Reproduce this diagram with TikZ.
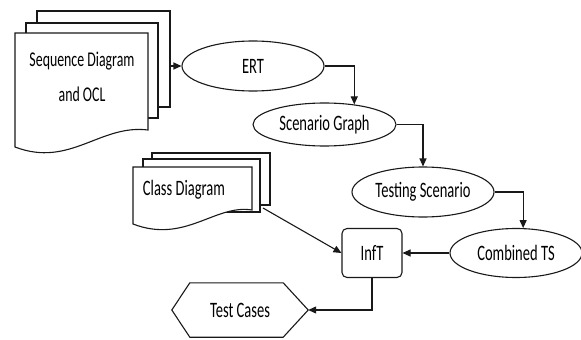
\documentclass[tikz,border=0pt]{standalone}
\usepackage{fontspec}
\setmainfont{Carlito}[FakeStretch=0.66]
\usetikzlibrary{arrows.meta,shapes.geometric,calc}
\tikzset{
  line/.style={draw=black!90, line width=1.1pt},
  oval/.style={ellipse, line, fill=white, inner sep=0pt, font=\fontsize{22}{26}\selectfont},
  flow/.style={line, -{Triangle[length=8pt,width=7pt]}},
  page/.style={line, fill=white},
  label/.style={inner sep=0pt, font=\fontsize{22}{26}\selectfont},
}
\begin{document}
\begin{tikzpicture}[x=1pt,y=-1pt]
\useasboundingbox (0,0) rectangle (581,340);

% stacked pages: sequence diagram and OCL
\path[page] (37,11) rectangle (170,107);
\path[page] (26,23) rectangle (158,118);
\path[page] (15,33) -- (148,33) -- (148,130)
  .. controls (100,124) and (70,168) .. (15,147) -- cycle;
\node[label, align=center, font=\fontsize{21}{25}\selectfont] (seq) at (82,77)
  {Sequence Diagram\\[10pt]and OCL};
\coordinate (seqout) at (170,66);

% stacked pages: class diagram
\path[page] (152,153) rectangle (270,205);
\path[page] (143,159) rectangle (260,212);
\path[page] (133,167) -- (252,167) -- (252,210)
  .. controls (215,204) and (185,244) .. (133,224) -- cycle;
\node[label] (cls) at (184,190) {Class Diagram};
\coordinate (clsout) at (263,208);

% process steps
\node[oval, minimum width=142pt, minimum height=50pt] (ert) at (253,66) {ERT};
\node[oval, minimum width=143pt, minimum height=43pt] (scen) at (324.5,124.5) {Scenario Graph};
\node[oval, minimum width=142pt, minimum height=50pt] (test) at (423,192) {Testing Scenario};
\node[oval, minimum width=132pt, minimum height=49pt] (comb) at (516,253) {Combined TS};
\node[line, fill=white, rounded corners=5pt, minimum width=60pt, minimum height=49pt,
      inner sep=0pt, font=\fontsize{22}{26}\selectfont] (inft) at (372,253) {InfT};

% output: test cases (hexagon)
\node[inner sep=0pt, minimum width=136pt, minimum height=54pt,
      font=\fontsize{22}{26}\selectfont] (tc) at (240,310) {Test Cases};
\draw[line] (tc.west) -- ([xshift=18pt]tc.north west) -- ([xshift=-25pt]tc.north east)
  -- (tc.east) -- ([xshift=-25pt]tc.south east) -- ([xshift=18pt]tc.south west) -- cycle;

% connectors
\draw[flow] (seqout) -- (ert.west);
\draw[flow] (ert.east) -| (scen.34);
\draw[flow] (scen.east) -| (test.north);
\draw[flow] (test.east) -| (comb.74);
\draw[flow] (comb.west) -- (inft.east);
\draw[flow] (clsout) -- (inft.west);
\draw[flow] (inft.south) |- (tc.east);
\end{tikzpicture}
\end{document}
